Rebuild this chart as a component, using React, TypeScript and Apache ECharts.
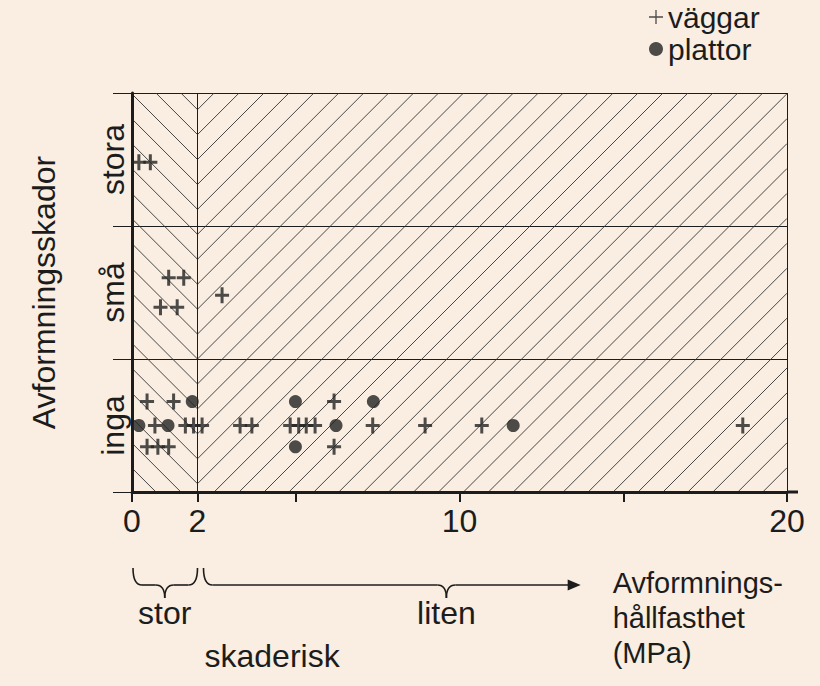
import React, { useEffect, useRef } from "react";
import * as echarts from "echarts";

// ---- data ----
const xTickValues = [0, 2, 5, 10, 15, 20];
const xLabelValues = [0, 2, 10, 20];
const yCategories = ["inga", "små", "stora"];
const yTickValues = [0, 1, 2, 3];
const yLabelValues = [0.5, 1.5, 2.5];
const seriesNames = ["väggar", "plattor"];

// väggar (crosses)
const vaggarX = [
  0.46, 1.27, 6.17,
  0.7, 1.63, 1.88, 2.14, 3.3, 3.66, 4.83, 5.09, 5.32, 5.59, 7.35, 8.95, 10.68, 18.65,
  0.46, 0.79, 1.12, 6.17,
  1.12, 1.58, 0.87, 1.38, 2.75,
  0.21, 0.56,
];
const vaggarY = [
  0.68, 0.68, 0.68,
  0.5, 0.5, 0.5, 0.5, 0.5, 0.5, 0.5, 0.5, 0.5, 0.5, 0.5, 0.5, 0.5, 0.5,
  0.34, 0.34, 0.34, 0.34,
  1.61, 1.61, 1.39, 1.39, 1.48,
  2.48, 2.48,
];
// plattor (dots)
const plattorX = [1.84, 0.21, 1.1, 4.99, 4.99, 6.23, 7.37, 11.64];
const plattorY = [0.68, 0.5, 0.5, 0.68, 0.34, 0.5, 0.68, 0.5];

const regionSplit = 2; // MPa boundary between "stor" and "liten"
const arrowEnd = 13.7; // MPa where the arrow ends
const braceTip = 9.6;
const braceLabels = ["stor", "liten"];
const riskLabel = "skaderisk";
const xTitleLines = ["Avformnings-", "hållfasthet", "(MPa)"];
const yTitle = "Avformningsskador";

// ---- style ----
const BG = "#f9eee1";
const INK = "#1c1c1c";
const FONT = "'Liberation Sans', Arial, Helvetica, sans-serif";
const FS = 32;
const FS_LEGEND = 30;
const FS_BLOCK = 29;
const CROSS = "path://M5.5,0H8.5V6.5H14V9.5H8.5V16H5.5V9.5H0V6.5H5.5Z";
const THIN_CROSS = "path://M6.8,0H8.2V6.8H15V8.2H8.2V15H6.8V8.2H0V6.8H6.8Z";

export default function App() {
  const ref = useRef<HTMLDivElement>(null);

  useEffect(() => {
    document.body.style.margin = "0";
    document.body.style.background = BG;
    const chart = echarts.init(ref.current as HTMLDivElement, null, { renderer: "svg" });

    const option: any = {
      animation: false,
      backgroundColor: BG,
      textStyle: { fontFamily: FONT, color: INK },
      grid: { left: 132, right: 33, top: 93, bottom: 194, containLabel: false },
      legend: {
        orient: "vertical",
        left: 644,
        top: -3,
        itemGap: 2,
        itemWidth: 14,
        itemHeight: 14,
        textStyle: { fontSize: FS_LEGEND, color: INK, fontFamily: FONT },
        data: [
          { name: seriesNames[0], icon: THIN_CROSS },
          { name: seriesNames[1], icon: "circle" },
        ],
      },
      xAxis: {
        type: "value",
        min: 0,
        max: 20,
        axisLine: { lineStyle: { color: INK, width: 3 } },
        axisTick: { customValues: xTickValues, length: 10, lineStyle: { color: INK, width: 2 } },
        axisLabel: {
          customValues: xLabelValues,
          fontSize: FS,
          color: INK,
          margin: 13,
          fontFamily: FONT,
        },
        splitLine: { show: false },
      },
      yAxis: {
        type: "value",
        min: 0,
        max: 3,
        interval: 1,
        axisLine: { show: true, lineStyle: { color: INK, width: 3 } },
        axisTick: { customValues: yTickValues, length: 19, lineStyle: { color: INK, width: 1 } },
        axisLabel: {
          customValues: yLabelValues,
          rotate: 90,
          fontSize: FS,
          color: INK,
          margin: 3,
          fontFamily: FONT,
          formatter: (v: number) => yCategories[Math.floor(v)] ?? "",
        },
        splitLine: { show: true, lineStyle: { color: INK, width: 1 } },
        name: yTitle,
        nameLocation: "middle",
        nameRotate: 90,
        nameGap: 72,
        nameTextStyle: { fontSize: FS, color: INK, fontFamily: FONT },
      },
      series: [
        {
          name: seriesNames[0],
          type: "scatter",
          symbol: CROSS,
          symbolSize: [14, 16],
          itemStyle: { color: "#222" },
          data: vaggarX.map((x, i) => [x, vaggarY[i]]),
          z: 5,
          markLine: {
            silent: true,
            symbol: "none",
            label: { show: false },
            lineStyle: { color: INK, width: 1, type: "solid" },
            data: [{ xAxis: regionSplit }, { xAxis: 20 }],
          },
        },
        {
          name: seriesNames[1],
          type: "scatter",
          symbol: "circle",
          symbolSize: 13,
          itemStyle: { color: "#222" },
          data: plattorX.map((x, i) => [x, plattorY[i]]),
          z: 5,
        },
      ],
    };
    chart.setOption(option);

    const px = (x: number, y: number) => chart.convertToPixel({ gridIndex: 0 }, [x, y]) as number[];
    const X = (v: number) => px(v, 0)[0];
    const Y = (v: number) => px(0, v)[1];

    const X0 = X(0), X2 = X(regionSplit), X20 = X(20);
    const Ytop = Y(3), Ybot = Y(0), Y1 = Y(1);
    const s = (Ybot - Ytop) / 16;
    const hatchStyle = { stroke: "#333", lineWidth: 0.9 };
    const els: any[] = [];

    for (let j = -40; j <= 40; j++) {
      const v = Y1 + j * s;
      // right region: "/" lines, x + y = k
      const k = X2 + v;
      const xa = Math.max(X2, k - Ybot);
      const xb = Math.min(X20, k - Ytop);
      if (xb - xa > 0.5) {
        els.push({ type: "line", z: 0, silent: true, shape: { x1: xa, y1: k - xa, x2: xb, y2: k - xb }, style: hatchStyle });
      }
      // left region: "\" lines, y - x = m
      const m = v - X2;
      const xc = Math.max(X0, Ytop - m);
      const xd = Math.min(X2, Ybot - m);
      if (xd - xc > 0.5) {
        els.push({ type: "line", z: 0, silent: true, shape: { x1: xc, y1: xc + m, x2: xd, y2: xd + m }, style: hatchStyle });
      }
    }

    // x axis extension to the right
    els.push({ type: "line", z: 3, silent: true, shape: { x1: X20, y1: Ybot, x2: X20 + 11, y2: Ybot }, style: { stroke: INK, lineWidth: 3 } });

    // braces
    const braceStyle = { stroke: INK, lineWidth: 1.6, fill: null };
    const yTop = 568, yMid = 585, yTip = 598;
    const brace = (a: number, b: number, tip: number, arrow: boolean) => {
      const r = 9;
      els.push({ type: "bezierCurve", shape: { x1: a, y1: yTop, cpx1: a, cpy1: yMid, x2: a + r, y2: yMid }, style: braceStyle });
      els.push({ type: "line", shape: { x1: a + r, y1: yMid, x2: tip - r, y2: yMid }, style: braceStyle });
      els.push({ type: "bezierCurve", shape: { x1: tip - r, y1: yMid, cpx1: tip, cpy1: yMid, x2: tip, y2: yTip }, style: braceStyle });
      els.push({ type: "bezierCurve", shape: { x1: tip, y1: yTip, cpx1: tip, cpy1: yMid, x2: tip + r, y2: yMid }, style: braceStyle });
      if (arrow) {
        els.push({ type: "line", shape: { x1: tip + r, y1: yMid, x2: b - 12, y2: yMid }, style: braceStyle });
        els.push({ type: "polygon", shape: { points: [[b - 13, yMid - 5.5], [b, yMid], [b - 13, yMid + 5.5]] }, style: { fill: INK } });
      } else {
        els.push({ type: "line", shape: { x1: tip + r, y1: yMid, x2: b - r, y2: yMid }, style: braceStyle });
        els.push({ type: "bezierCurve", shape: { x1: b - r, y1: yMid, cpx1: b, cpy1: yMid, x2: b, y2: yTop }, style: braceStyle });
      }
    };
    brace(X0 + 1, X2, (X0 + X2) / 2, false);
    const b2a = X2 + 6;
    const b2end = X(arrowEnd);
    brace(b2a, b2end, X(braceTip), true);

    const txt = (text: string, x: number, y: number, align: string) => ({
      type: "text",
      x,
      y,
      style: { text, fill: INK, font: `${FS}px ${FONT}`, textAlign: align, textVerticalAlign: "middle" },
    });
    els.push(txt(braceLabels[0], (X0 + X2) / 2, 613, "center"));
    els.push(txt(braceLabels[1], X(braceTip), 613, "center"));
    els.push(txt(riskLabel, X2 + 7, 656, "left"));
    els.push({
      type: "text",
      x: b2end + 32,
      y: 565,
      style: {
        text: xTitleLines.join("\n"),
        fill: INK,
        font: `${FS_BLOCK}px ${FONT}`,
        lineHeight: 35,
        textAlign: "left",
        textVerticalAlign: "top",
      },
    });

    chart.setOption({ graphic: { elements: els } });
    return () => chart.dispose();
  }, []);

  return <div ref={ref} style={{ width: 820, height: 686 }} />;
}
